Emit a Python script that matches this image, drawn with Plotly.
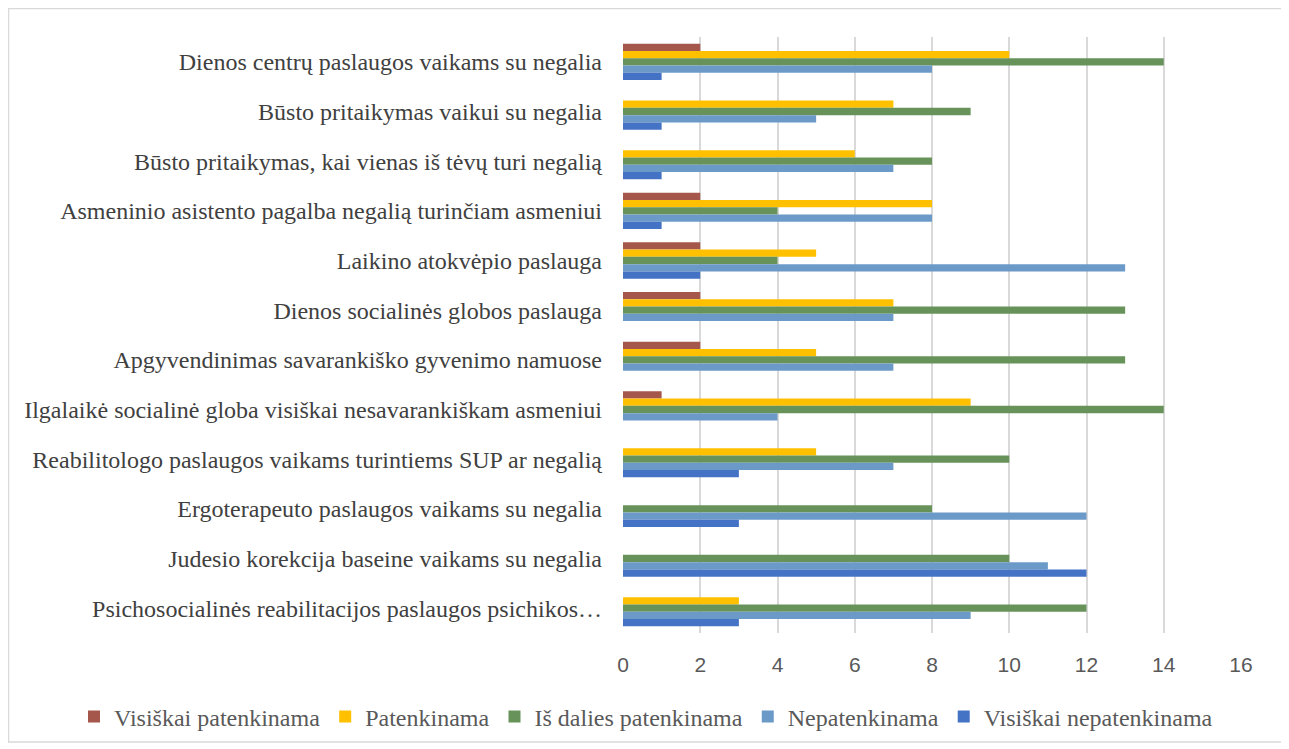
import plotly.graph_objects as go

categories = [
    "Dienos centrų paslaugos vaikams su negalia",
    "Būsto pritaikymas vaikui su negalia",
    "Būsto pritaikymas, kai vienas iš tėvų turi negalią",
    "Asmeninio asistento pagalba negalią turinčiam asmeniui",
    "Laikino atokvėpio paslauga",
    "Dienos socialinės globos paslauga",
    "Apgyvendinimas savarankiško gyvenimo namuose",
    "Ilgalaikė socialinė globa visiškai nesavarankiškam asmeniui",
    "Reabilitologo paslaugos vaikams turintiems SUP ar negalią",
    "Ergoterapeuto paslaugos vaikams su negalia",
    "Judesio korekcija baseine vaikams su negalia",
    "Psichosocialinės reabilitacijos paslaugos psichikos…",
]

visiskai_patenkinama = [2, 0, 0, 2, 2, 2, 2, 1, 0, 0, 0, 0]
patenkinama = [10, 7, 6, 8, 5, 7, 5, 9, 5, 0, 0, 3]
is_dalies_patenkinama = [14, 9, 8, 4, 4, 13, 13, 14, 10, 8, 10, 12]
nepatenkinama = [8, 5, 7, 8, 13, 7, 7, 4, 7, 12, 11, 9]
visiskai_nepatenkinama = [1, 1, 1, 1, 2, 0, 0, 0, 3, 3, 12, 3]

series_names = ["Visiškai patenkinama", "Patenkinama", "Iš dalies patenkinama",
                "Nepatenkinama", "Visiškai nepatenkinama"]
series_values = [visiskai_patenkinama, patenkinama, is_dalies_patenkinama,
                 nepatenkinama, visiskai_nepatenkinama]
colors = ["#A5574B", "#FFC000", "#67935A", "#6B9AC8", "#4472C4"]

x_ticks = [0, 2, 4, 6, 8, 10, 12, 14, 16]

fig = go.Figure()
for name, vals, col in zip(series_names, series_values, colors):
    fig.add_trace(go.Bar(
        y=categories, x=vals, name=name, orientation="h",
        marker=dict(color=col, line=dict(width=0)),
    ))

# page has an 8px body margin; figure is drawn at offset (8, 8)
W, H = 1275, 735
L, R, T, B = 615, 42, 29, 110
pw, ph = W - L - R, H - T - B

fig.update_layout(
    width=W, height=H,
    paper_bgcolor="white", plot_bgcolor="white",
    barmode="group", bargap=0.27, bargroupgap=0,
    margin=dict(l=L, r=R, t=T, b=B, autoexpand=False),
    font=dict(family="Liberation Serif", color="#404040", size=24),
    xaxis=dict(
        range=[0, 16], tickvals=x_ticks, showgrid=True,
        gridcolor="#D9D9D9", gridwidth=2, zeroline=False,
        showline=False, ticks="", automargin=False,
        ticklabelstandoff=17,
        tickfont=dict(family="Liberation Sans Narrow, Liberation Sans", size=21, color="#595959"),
    ),
    yaxis=dict(
        autorange="reversed", showgrid=False, zeroline=False,
        showline=False, ticks="", ticklabelstandoff=20, automargin=False,
        tickfont=dict(family="Liberation Serif", size=24, color="#404040"),
    ),
    legend=dict(
        orientation="h", xref="paper", yref="paper",
        x=(66 - L) / pw, xanchor="left", y=(T + ph - 709) / ph, yanchor="middle",
        font=dict(family="Liberation Serif", size=24, color="#595959"),
        traceorder="normal", itemwidth=30,
    ),
    showlegend=True,
)

fig.add_shape(type="rect", xref="paper", yref="paper",
              x0=(0.5 - L) / pw, x1=(W - 1 - L) / pw,
              y0=(T + ph - (H - 1)) / ph, y1=(T + ph - 0.5) / ph,
              line=dict(color="#D9D9D9", width=1.5), fillcolor="rgba(0,0,0,0)", layer="below")

fig.write_html("out.html")
